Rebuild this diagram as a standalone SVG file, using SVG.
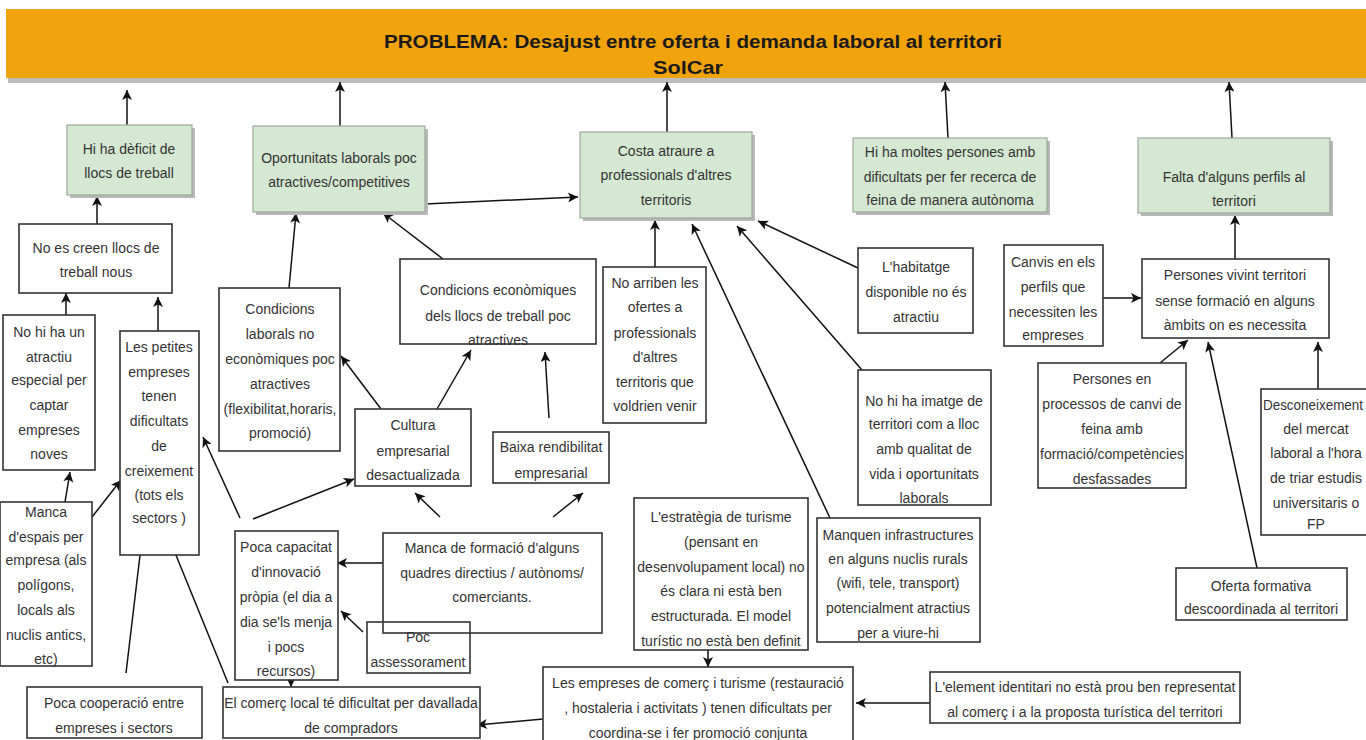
<svg xmlns="http://www.w3.org/2000/svg" width="1366" height="740" viewBox="0 0 1366 740">
<style>
text{font-family:"Liberation Sans",Arial,sans-serif;font-size:14px;fill:#333;text-anchor:middle}
.hdr{font-weight:bold;font-size:18px;fill:#1a1a1a}
.g{fill:#d5e8d2;stroke:#9aa89a;stroke-width:1.2}
.gs{fill:#b8b8b8}
.w{fill:#fff;stroke:#333;stroke-width:1.6}
.wn{fill:none;stroke:#333;stroke-width:1.6}
#connectors line{stroke:#111;stroke-width:1.5;marker-end:url(#ah)}
</style>
<defs>
<marker id="ah" viewBox="0 0 10 10" refX="10" refY="5" markerWidth="11" markerHeight="10" markerUnits="userSpaceOnUse" orient="auto">
<path d="M0,0 L10,5 L0,10 L2.5,5 z" fill="#111"/>
</marker>
</defs>
<rect width="1366" height="740" fill="#fff"/>

<g id="header">
<rect x="8" y="13" width="1362" height="70" fill="#bdbdbd"/>
<rect x="6" y="9" width="1362" height="69" fill="#f0a30a"/>
<text class="hdr" x="693" y="48" textLength="618" lengthAdjust="spacingAndGlyphs">PROBLEMA: Desajust entre oferta i demanda laboral al territori</text>
<text class="hdr" x="688" y="74" textLength="70" lengthAdjust="spacingAndGlyphs">SolCar</text>
</g>

<g id="connectors">
<line x1="127" y1="125" x2="127" y2="90"/>
<line x1="340" y1="126" x2="340" y2="82"/>
<line x1="667" y1="132" x2="667" y2="82"/>
<line x1="948" y1="138" x2="945" y2="82"/>
<line x1="1232" y1="138" x2="1229" y2="82"/>
<line x1="97" y1="224" x2="97" y2="196"/>
<line x1="66" y1="315" x2="66" y2="293"/>
<line x1="158" y1="331" x2="158" y2="297"/>
<line x1="289" y1="288" x2="296" y2="213"/>
<line x1="443" y1="259" x2="383" y2="213"/>
<line x1="425" y1="204" x2="578" y2="197"/>
<line x1="655" y1="267" x2="655" y2="220"/>
<line x1="858" y1="268" x2="758" y2="221"/>
<line x1="862" y1="370" x2="737" y2="226"/>
<line x1="830" y1="518" x2="692" y2="224"/>
<line x1="381" y1="409" x2="341" y2="356"/>
<line x1="437" y1="409" x2="471" y2="350"/>
<line x1="549" y1="418" x2="545" y2="352"/>
<line x1="65" y1="502" x2="70" y2="472"/>
<line x1="92" y1="517" x2="121" y2="480"/>
<line x1="240" y1="518" x2="203" y2="437"/>
<line x1="253" y1="519" x2="354" y2="479"/>
<line x1="126" y1="673" x2="143" y2="530"/>
<line x1="228" y1="683" x2="167" y2="533"/>
<line x1="291" y1="655" x2="291" y2="687"/>
<line x1="383" y1="563" x2="337" y2="563"/>
<line x1="363" y1="632" x2="341" y2="611"/>
<line x1="440" y1="517" x2="415" y2="493"/>
<line x1="553" y1="517" x2="583" y2="493"/>
<line x1="543" y1="719" x2="477" y2="725"/>
<line x1="930" y1="703" x2="856" y2="703"/>
<line x1="708" y1="632" x2="708" y2="667"/>
<line x1="1103" y1="298" x2="1141" y2="298"/>
<line x1="1235" y1="259" x2="1235" y2="215"/>
<line x1="1160" y1="363" x2="1188" y2="340"/>
<line x1="1257" y1="568" x2="1208" y2="342"/>
<line x1="1318" y1="389" x2="1318" y2="342"/>
</g>

<g id="g1"><rect class="gs" x="70" y="128" width="125" height="70"/><rect class="g" x="67" y="125" width="125" height="70"/>
<text x="129" y="154">Hi ha dèficit de</text><text x="129" y="178">llocs de treball</text></g>
<g id="g2"><rect class="gs" x="256" y="129" width="172" height="86"/><rect class="g" x="253" y="126" width="172" height="86"/>
<text x="339" y="163">Oportunitats laborals poc</text><text x="339" y="187">atractives/competitives</text></g>
<g id="g3"><rect class="gs" x="583" y="135" width="172" height="86"/><rect class="g" x="580" y="132" width="172" height="86"/>
<text x="666" y="156">Costa atraure a</text><text x="666" y="180">professionals d'altres</text><text x="666" y="205">territoris</text></g>
<g id="g4"><rect class="gs" x="856" y="141" width="194" height="74"/><rect class="g" x="853" y="138" width="194" height="74"/>
<text x="950" y="157">Hi ha moltes persones amb</text><text x="950" y="182">dificultats per fer recerca de</text><text x="950" y="205">feina de manera autònoma</text></g>
<g id="g5"><rect class="gs" x="1141" y="141" width="192" height="75"/><rect class="g" x="1138" y="138" width="192" height="75"/>
<text x="1234" y="182">Falta d'alguns perfils al</text><text x="1234" y="206">territori</text></g>

<g id="w1"><rect class="w" x="19" y="224" width="153" height="69"/>
<text x="96" y="253">No es creen llocs de</text><text x="96" y="277">treball nous</text></g>
<g id="w2"><rect class="w" x="3" y="315" width="92" height="155"/>
<text x="49" y="337">No hi ha un</text><text x="49" y="362">atractiu</text><text x="49" y="385">especial per</text><text x="49" y="410">captar</text><text x="49" y="435">empreses</text><text x="49" y="459">noves</text></g>
<g id="w3"><rect class="w" x="120" y="331" width="79" height="224"/>
<text x="159" y="352">Les  petites</text><text x="159" y="377">empreses</text><text x="159" y="401">tenen</text><text x="159" y="426">dificultats</text><text x="159" y="451">de</text><text x="159" y="476">creixement</text><text x="159" y="500">(tots els</text><text x="159" y="523">sectors )</text></g>
<g id="w4"><rect class="w" x="219" y="288" width="121" height="163"/>
<text x="280" y="314">Condicions</text><text x="280" y="339">laborals no</text><text x="280" y="364">econòmiques poc</text><text x="280" y="389">atractives</text><text x="280" y="414">(flexibilitat,horaris,</text><text x="280" y="438">promoció)</text></g>
<g id="w5"><rect class="w" x="400" y="259" width="196" height="85"/>
<text x="498" y="295">Condicions econòmiques</text><text x="498" y="321">dels llocs de treball poc</text><text x="498" y="345">atractives</text></g>
<g id="w6"><rect class="w" x="355" y="409" width="116" height="77"/>
<text x="413" y="430">Cultura</text><text x="413" y="456">empresarial</text><text x="413" y="480">desactualizada</text></g>
<g id="w7"><rect class="w" x="493" y="432" width="116" height="51"/>
<text x="551" y="452">Baixa rendibilitat</text><text x="551" y="478">empresarial</text></g>
<g id="w8"><rect class="w" x="603" y="267" width="103" height="156"/>
<text x="655" y="288">No arriben les</text><text x="655" y="312">ofertes a</text><text x="655" y="338">professionals</text><text x="655" y="362">d'altres</text><text x="655" y="387">territoris que</text><text x="655" y="411">voldrien venir</text></g>
<g id="w9"><rect class="w" x="858" y="248" width="115" height="85"/>
<text x="916" y="272">L'habitatge</text><text x="916" y="297">disponible no és</text><text x="916" y="322">atractiu</text></g>
<g id="w10"><rect class="w" x="858" y="370" width="133" height="135"/>
<text x="924" y="406">No hi ha imatge de</text><text x="924" y="429">territori com a lloc</text><text x="924" y="454">amb qualitat de</text><text x="924" y="479">vida i oportunitats</text><text x="924" y="503">laborals</text></g>
<g id="w11"><rect class="w" x="817" y="518" width="163" height="124"/>
<text x="898" y="540">Manquen infrastructures</text><text x="898" y="564">en alguns  nuclis rurals</text><text x="898" y="588">(wifi, tele, transport)</text><text x="898" y="613">potencialment atractius</text><text x="898" y="638">per a viure-hi</text></g>
<g id="w12"><rect class="w" x="634" y="498" width="174" height="152"/>
<text x="721" y="522">L'estratègia de turisme</text><text x="721" y="547">(pensant en</text><text x="721" y="572">desenvolupament local) no</text><text x="721" y="596">és clara ni està ben</text><text x="721" y="621">estructurada. El model</text><text x="721" y="646">turístic no està ben definit</text></g>
<g id="w13"><rect class="w" x="543" y="667" width="310" height="76"/>
<text x="698" y="688">Les empreses de comerç i turisme (restauració</text><text x="698" y="713">, hostaleria i activitats ) tenen dificultats per</text><text x="698" y="738">coordina-se i fer promoció conjunta</text></g>
<g id="w14"><rect class="w" x="930" y="672" width="310" height="51"/>
<text x="1085" y="692">L'element identitari no està prou ben representat</text><text x="1085" y="717">al comerç i a la proposta turística del territori</text></g>
<g id="w15"><rect class="w" x="223" y="687" width="257" height="51"/>
<text x="351" y="708">El comerç local té dificultat per davallada</text><text x="351" y="733">de compradors</text></g>
<g id="w16"><rect class="w" x="27" y="687" width="175" height="51"/>
<text x="114" y="708">Poca cooperació entre</text><text x="114" y="733">empreses i sectors</text></g>
<g id="w17"><rect class="w" x="235" y="531" width="103" height="149"/>
<text x="286" y="552">Poca capacitat</text><text x="286" y="577">d'innovació</text><text x="286" y="602">pròpia (el dia a</text><text x="286" y="627">dia se'ls menja</text><text x="286" y="652">i pocs</text><text x="286" y="676">recursos)</text></g>
<g id="w18"><rect class="w" x="0" y="502" width="92" height="164"/>
<text x="46" y="517">Manca</text><text x="46" y="542">d'espais per</text><text x="46" y="565">empresa (als</text><text x="46" y="590">polígons,</text><text x="46" y="615">locals als</text><text x="46" y="640">nuclis antics,</text><text x="46" y="664">etc)</text></g>
<g id="w19"><rect class="w" x="383" y="533" width="219" height="100"/>
<text x="492" y="553">Manca de formació d'alguns</text><text x="492" y="578">quadres directius / autònoms/</text><text x="492" y="602">comerciants.</text></g>
<g id="w20"><rect class="wn" x="367" y="622" width="103" height="51"/>
<text x="418" y="642">Poc</text><text x="418" y="667">assessorament</text></g>
<g id="w21"><rect class="w" x="1004" y="245" width="99" height="101"/>
<text x="1053" y="267">Canvis en els</text><text x="1053" y="292">perfils que</text><text x="1053" y="317">necessiten les</text><text x="1053" y="340">empreses</text></g>
<g id="w22"><rect class="w" x="1142" y="259" width="187" height="79"/>
<text x="1235" y="280">Persones vivint territori</text><text x="1235" y="306">sense formació en alguns</text><text x="1235" y="330">àmbits on es necessita</text></g>
<g id="w23"><rect class="w" x="1038" y="363" width="148" height="125"/>
<text x="1112" y="384">Persones en</text><text x="1112" y="409">processos de canvi de</text><text x="1112" y="434">feina amb</text><text x="1112" y="459">formació/competències</text><text x="1112" y="484">desfassades</text></g>
<g id="w24"><rect class="w" x="1176" y="568" width="171" height="52"/>
<text x="1261" y="591">Oferta formativa</text><text x="1261" y="614">descoordinada al territori</text></g>
<g id="w25"><rect class="w" x="1261" y="389" width="112" height="146"/>
<text x="1313" y="410" textLength="100" lengthAdjust="spacingAndGlyphs">Desconeixement</text><text x="1316" y="434">del mercat</text><text x="1316" y="458">laboral  a l'hora</text><text x="1316" y="483">de triar estudis</text><text x="1316" y="508">universitaris o</text><text x="1316" y="529">FP</text></g>
</svg>
